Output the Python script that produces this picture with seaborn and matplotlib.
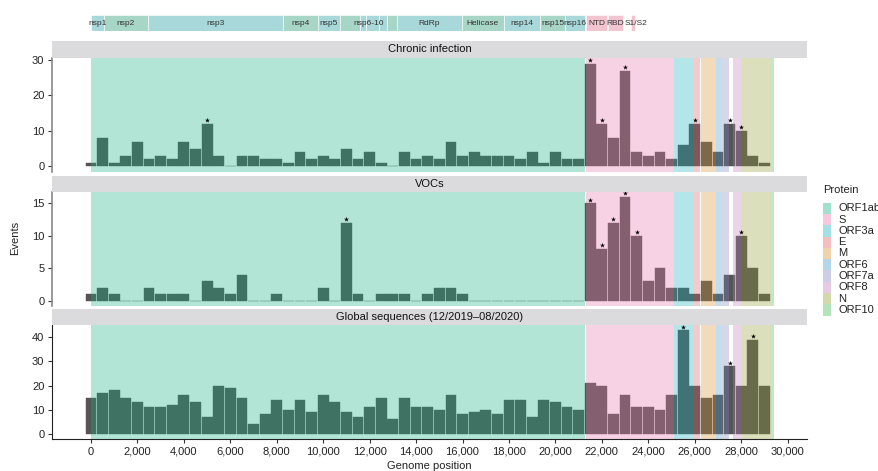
import numpy as np
import pandas as pd
import matplotlib
matplotlib.use("Agg")
import matplotlib.pyplot as plt
import matplotlib.transforms as mtransforms
from matplotlib.colors import to_rgb
from matplotlib.patches import Rectangle
from matplotlib.ticker import FuncFormatter
import seaborn as sns

# ---------------------------------------------------------------- data
# x positions are counted from the start of ORF1ab (genome nt 266)
ORIGIN = 266
BIN_SIZE = 500
bin_pos = np.arange(59) * BIN_SIZE

chronic = [1, 8, 1, 3, 7, 2, 3, 2, 7, 5, 12, 3, 0, 3, 3, 2, 2, 1, 4, 2,
           3, 2, 5, 2, 4, 1, 0, 4, 2, 3, 2, 7, 3, 4, 3, 3, 3, 2, 4, 1,
           4, 2, 2, 29, 12, 8, 27, 4, 3, 4, 2, 6, 12, 7, 4, 12, 10, 3, 1]
vocs = [1, 2, 1, 0, 0, 2, 1, 1, 1, 0, 3, 2, 1, 4, 0, 0, 1, 0, 0, 0,
        2, 0, 12, 1, 0, 1, 1, 1, 0, 1, 2, 2, 1, 0, 0, 0, 0, 0, 0, 0,
        0, 0, 0, 15, 8, 12, 16, 10, 3, 5, 2, 2, 1, 3, 1, 4, 10, 5, 1]
global_seq = [15, 17, 18, 15, 13, 11, 11, 12, 16, 13, 7, 20, 19, 15, 4, 8, 14, 10, 14, 9,
              16, 13, 9, 7, 11, 15, 6, 15, 11, 11, 10, 16, 8, 9, 10, 8, 14, 14, 7, 14,
              13, 11, 10, 21, 20, 8, 16, 11, 11, 10, 16, 43, 20, 15, 16, 28, 20, 39, 20]

# bins flagged as significantly enriched
chronic_stars = [5000, 21500, 22000, 23000, 26000, 27500, 28000]
vocs_stars = [11000, 21500, 22000, 22500, 23000, 23500, 28000]
global_stars = [25500, 27500, 28500]

panel_titles = ["Chronic infection", "VOCs", "Global sequences (12/2019\u201308/2020)"]

proteins = ["ORF1ab", "S", "ORF3a", "E", "M", "ORF6", "ORF7a", "ORF8", "N", "ORF10"]
protein_start = [266, 21563, 25393, 26245, 26523, 27202, 27394, 27894, 28274, 29558]
protein_end = [21555, 25384, 26220, 26472, 27191, 27387, 27759, 28259, 29533, 29674]
protein_colors = ["#12B17F", "#E975AB", "#18B1BA", "#E05D62", "#D6912D",
                  "#4398CA", "#8285BD", "#C07CB7", "#959E31", "#43B753"]

# genome annotation track (genome coordinates)
track_names = ["nsp1", "nsp2", "nsp3", "nsp4", "nsp5", "nsp6", "nsp7", "nsp8", "nsp9",
               "nsp10", "RdRp", "Helicase", "nsp14", "nsp15", "nsp16", "NTD", "RBD", "S1/S2"]
track_start = [266, 806, 2720, 8555, 10055, 10973, 11843, 12092, 12686, 13025,
               13442, 16237, 18040, 19621, 20659, 21599, 22517, 23520]
track_end = [805, 2719, 8554, 10054, 10972, 11842, 12091, 12685, 13024, 13441,
             16236, 18039, 19620, 20658, 21552, 22472, 23185, 23690]
track_kind = ["a", "b", "a", "b", "a", "b", "a", "a", "a", "b",
              "a", "b", "a", "b", "a", "s", "s", "s"]
track_labels = ["nsp1", "nsp2", "nsp3", "nsp4", "nsp5", "nsp6-10", "RdRp", "Helicase",
                "nsp14", "nsp15", "nsp16", "NTD", "RBD", "S1/S2"]
track_label_from = ["nsp1", "nsp2", "nsp3", "nsp4", "nsp5", "nsp6", "RdRp", "Helicase",
                    "nsp14", "nsp15", "nsp16", "NTD", "RBD", "S1/S2"]
track_label_to = ["nsp1", "nsp2", "nsp3", "nsp4", "nsp5", "nsp10", "RdRp", "Helicase",
                  "nsp14", "nsp15", "nsp16", "NTD", "RBD", "S1/S2"]

# ---------------------------------------------------------------- style
sns.set_style("ticks")
plt.rcParams["font.family"] = ["Liberation Sans", "DejaVu Sans"]
plt.rcParams["font.size"] = 8

BAR_GREY = "#555555"
BG_ALPHA = 0.32
KEY_ALPHA = 0.4
TRACK_FILL = {"a": "#A9D8DB", "b": "#A8D6C6", "s": "#F2C4D0"}

W, H = 879, 471
fig = plt.figure(figsize=(W / 100, H / 100), dpi=100)


def px_box(x0, y0, x1, y1):
    return [x0 / W, 1 - y1 / H, (x1 - x0) / W, (y1 - y0) / H]


def tint(color, alpha):
    r, g, b = to_rgb(color)
    return (alpha * r + 1 - alpha, alpha * g + 1 - alpha, alpha * b + 1 - alpha)


X_LEFT, X_RIGHT = 52, 807
XLIM = (-1680, 30835)

# ---------------------------------------------------------------- annotation track
tax = fig.add_axes(px_box(X_LEFT, 14.5, X_RIGHT, 31))
tax.set_xlim(XLIM)
tax.set_ylim(0, 1)
tax.axis("off")
for s, e, k in zip(track_start, track_end, track_kind):
    tax.axvspan(s - ORIGIN, e - ORIGIN, color=TRACK_FILL[k], lw=0.4, ec="white")
name_idx = {n: i for i, n in enumerate(track_names)}
for lab, a, b in zip(track_labels, track_label_from, track_label_to):
    x0 = track_start[name_idx[a]] - ORIGIN
    x1 = track_end[name_idx[b]] - ORIGIN
    # the cleavage-site label sits just right of its narrow box
    shift = 3.5 if lab == "S1/S2" else 0
    tf = mtransforms.offset_copy(tax.transData, fig=fig, x=shift, units="dots")
    tax.text((x0 + x1) / 2, 0.48, lab, ha="center", va="center",
             fontsize=6.0, color="#333333", transform=tf)

# ---------------------------------------------------------------- panels
panels = [
    (chronic, chronic_stars, (-1.52, 30.65), [0, 10, 20, 30], 41.3, 57.7, 171.7),
    (vocs, vocs_stars, (-0.77, 16.74), [0, 5, 10, 15], 175.5, 192.0, 305.7),
    (global_seq, global_stars, (-2.2, 45.0), [0, 10, 20, 30, 40], 309.0, 325.3, 439.0),
]

axes = []
for i, (vals, stars, ylim, yticks, s_top, a_top, a_bot) in enumerate(panels):
    last = i == len(panels) - 1
    ax = fig.add_axes(px_box(X_LEFT, a_top, X_RIGHT, a_bot))
    df = pd.DataFrame({"pos": bin_pos, "events": vals})
    sns.barplot(data=df, x="pos", y="events", native_scale=True, width=0.93,
                color=BAR_GREY, saturation=1, errorbar=None,
                edgecolor=BAR_GREY, linewidth=0.3, ax=ax, zorder=1)
    for s, e, c in zip(protein_start, protein_end, protein_colors):
        ax.axvspan(s - ORIGIN, e - ORIGIN, color=c, alpha=BG_ALPHA, lw=0, zorder=2)

    star_y = [vals[int(p // BIN_SIZE)] for p in stars]
    star_tf = mtransforms.offset_copy(ax.transData, fig=fig, y=3.6, units="dots")
    ax.scatter(stars, star_y, marker="*", s=14, color="black", linewidths=0,
               transform=star_tf, zorder=4, clip_on=False)

    ax.set_xlim(XLIM)
    ax.set_ylim(ylim)
    ax.set_yticks(yticks)
    ax.set_ylabel("")
    ax.set_facecolor("white")
    for side in ("top", "right"):
        ax.spines[side].set_visible(False)
    ax.tick_params(axis="y", length=3, width=0.8, pad=2.5, labelsize=8,
                   color="#333333", labelcolor="#222222")
    if last:
        ax.spines["left"].set_color("#222222")
        ax.spines["bottom"].set_color("#222222")
        ax.spines["left"].set_linewidth(0.8)
        ax.spines["bottom"].set_linewidth(0.8)
        ax.set_xticks(np.arange(0, 30001, 2000))
        ax.xaxis.set_major_formatter(FuncFormatter(lambda v, _: f"{int(v):,}"))
        ax.tick_params(axis="x", length=3, width=0.8, pad=2.5, labelsize=8,
                       color="#333333", labelcolor="#222222")
        ax.set_xlabel("Genome position", fontsize=8, labelpad=3, color="#222222")
    else:
        ax.spines["bottom"].set_visible(False)
        ax.spines["left"].set_color("#888888")
        ax.spines["left"].set_linewidth(1.2)
        ax.set_xticks([])
        ax.set_xlabel("")

    # facet strip
    sax = fig.add_axes(px_box(X_LEFT, s_top, X_RIGHT, a_top))
    sax.set_facecolor("#DBDBDD")
    sax.set_xticks([])
    sax.set_yticks([])
    for sp in sax.spines.values():
        sp.set_visible(False)
    sax.text(0.5, 0.5, panel_titles[i], ha="center", va="center",
             fontsize=8, color="#111111", transform=sax.transAxes)
    axes.append(ax)

fig.text(15 / W, 1 - 238 / H, "Events", rotation=90, ha="center", va="center",
         fontsize=8, color="#222222")

# ---------------------------------------------------------------- legend (compact key column)
KEY_X0, KEY_X1, TEXT_X = 822.7, 830.7, 838.5
ROW0, ROW_H = 208.3, 11.3
fig.text(KEY_X0 / W, 1 - 190 / H, "Protein", ha="left", va="center",
         fontsize=8, color="#222222")
for k, (name, c) in enumerate(zip(proteins, protein_colors)):
    yc = ROW0 + k * ROW_H
    fig.add_artist(Rectangle((KEY_X0 / W, 1 - (yc + ROW_H / 2) / H),
                             (KEY_X1 - KEY_X0) / W, ROW_H / H,
                             transform=fig.transFigure, facecolor=tint(c, KEY_ALPHA),
                             lw=0))
    fig.text(TEXT_X / W, 1 - yc / H, name, ha="left", va="center",
             fontsize=8, color="#222222")

fig.savefig("out.png", dpi=100, facecolor="white")
